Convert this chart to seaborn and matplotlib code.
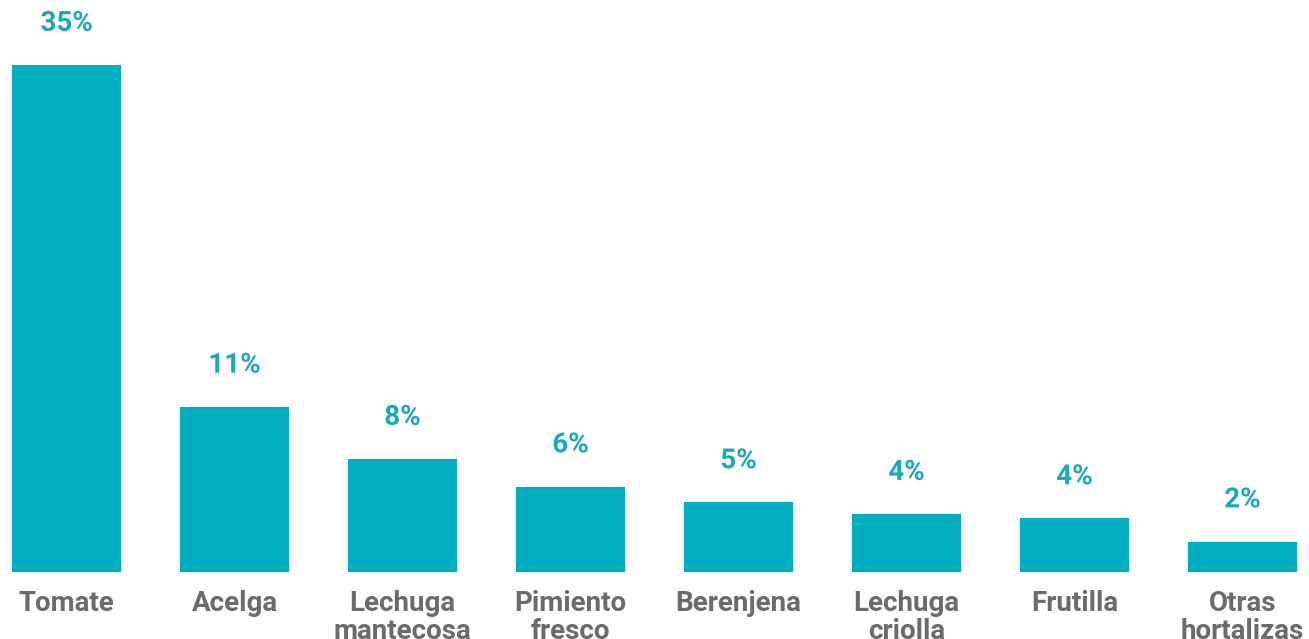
import matplotlib
matplotlib.use("Agg")
import matplotlib.pyplot as plt
import matplotlib.patheffects as pe
import seaborn as sns
import pandas as pd

categories = ["Tomate", "Acelga", "Lechuga\nmantecosa", "Pimiento\nfresco",
              "Berenjena", "Lechuga\ncriolla", "Frutilla", "Otras\nhortalizas"]
values = [35.0, 11.4, 7.8, 5.9, 4.8, 4.0, 3.7, 2.1]
labels = ["35%", "11%", "8%", "6%", "5%", "4%", "4%", "2%"]

df = pd.DataFrame({"cat": categories, "val": values})

sns.set_style("white")
plt.rcParams["font.family"] = ["Roboto", "DejaVu Sans"]

bar_color = "#00aec2"
text_color = "#17a9bd"
tick_color = "#6b6b6b"

fig = plt.figure(figsize=(13.09, 6.39), dpi=100)
ax = fig.add_axes([12 / 1309, 67 / 639, 1285 / 1309, 572 / 639])
sns.barplot(data=df, x="cat", y="val", color=bar_color, saturation=1,
            width=0.65, ax=ax, edgecolor="none")

ax.set_xlim(-0.325, len(categories) - 1 + 0.325)
ax.set_ylim(0, 35 * 572 / 507)

for i, (v, lab) in enumerate(zip(values, labels)):
    ax.annotate(lab, (i, v), xytext=(0, 30), textcoords="offset points",
                ha="center", va="center", fontsize=20, fontweight="bold",
                color=text_color,
                path_effects=[pe.withStroke(linewidth=5, foreground="white")])

ax.set_xlabel("")
ax.set_ylabel("")
ax.set_yticks([])
ax.tick_params(axis="x", length=0, pad=13)
for t in ax.get_xticklabels():
    t.set_fontsize(20)
    t.set_fontweight("bold")
    t.set_color(tick_color)
    t.set_linespacing(1.05)
sns.despine(ax=ax, left=True, bottom=True, top=True, right=True)

fig.savefig("out.png", dpi=100)
